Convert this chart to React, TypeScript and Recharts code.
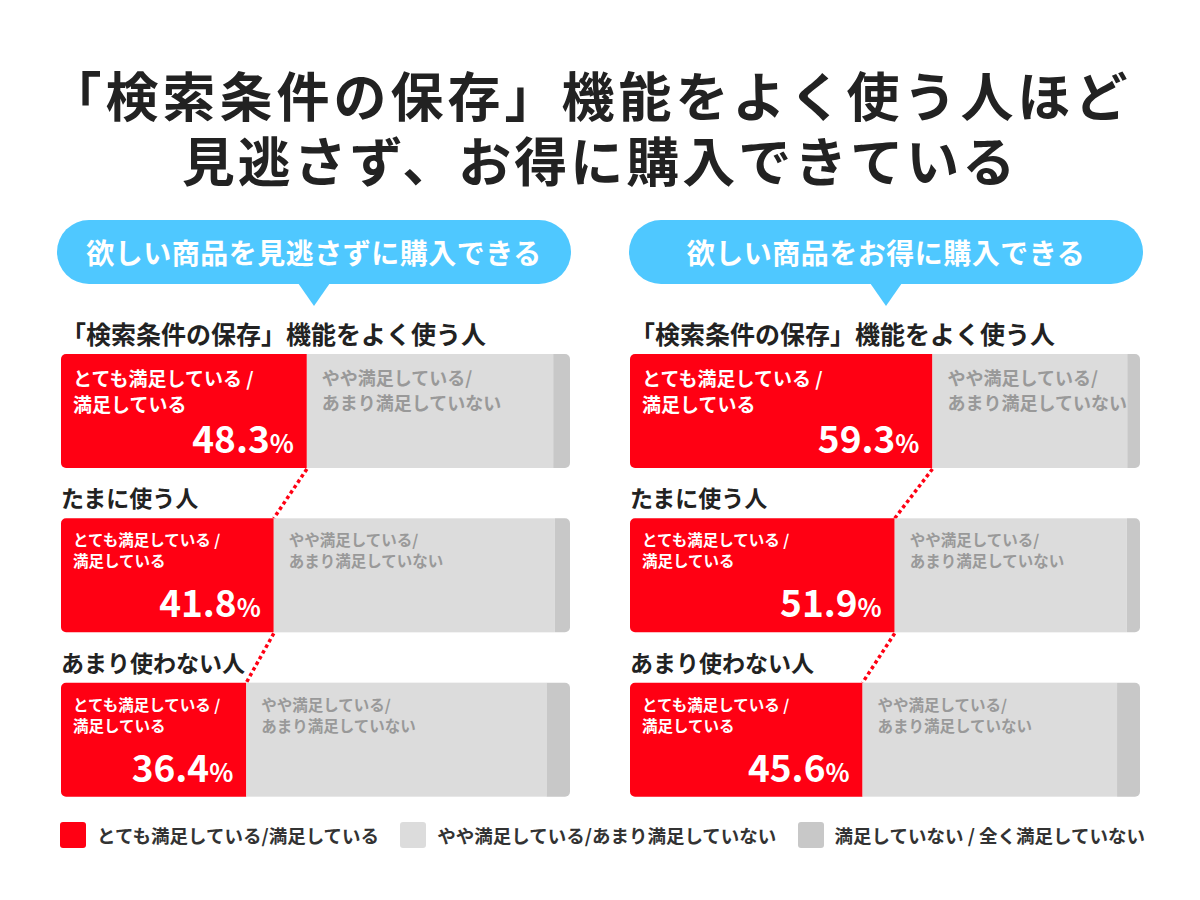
import React from "react";
import { BarChart, Bar, XAxis, YAxis, Rectangle } from "recharts";

const groups = ["「検索条件の保存」機能をよく使う人", "たまに使う人", "あまり使わない人"];

// 欲しい商品を見逃さずに購入できる
const missSatisfied = [48.3, 41.8, 36.4];
const missNeutral = [48.4, 55.2, 59.0];
const missDissatisfied = [3.3, 3.0, 4.6];

// 欲しい商品をお得に購入できる
const dealSatisfied = [59.3, 51.9, 45.6];
const dealNeutral = [38.2, 45.5, 49.9];
const dealDissatisfied = [2.5, 2.6, 4.5];

const panelTitles = ["欲しい商品を見逃さずに購入できる", "欲しい商品をお得に購入できる"];
const legendLabels = [
  "とても満足している/満足している",
  "やや満足している/あまり満足していない",
  "満足していない / 全く満足していない",
];

const RED = "#FF0013";
const LIGHT = "#DCDCDC";
const DARK = "#C8C8C8";
const BLUE = "#4FC8FF";
const FONT = '"Noto Sans CJK JP", "Noto Sans", sans-serif';

const CHART_TOP = 289;
const CHART_H = 533;
const MARGIN_TOP = 40;
const BAR = 114;
const BAND = (CHART_H - MARGIN_TOP) / 3;
const GAP = BAND - BAR;

const RedShape = (props: any) => {
  const { x, y, width, height, index, payload } = props;
  const big = index === 0;
  const fs = big ? 19 : 15.5;
  return (
    <g>
      <Rectangle x={x} y={y} width={width} height={height} radius={[5, 0, 0, 5]} fill={RED} />
      {payload.prev != null && (
        <line
          x1={x + (width * payload.prev) / payload.satisfied}
          y1={y - GAP + 1}
          x2={x + width}
          y2={y}
          stroke={RED}
          strokeWidth={3.5}
          strokeDasharray="3.5 3"
        />
      )}
      {/* group label above the bar */}
      <text x={x} y={y - 21} fill="#222" fontSize={big ? 25 : 23} fontWeight={700} fontFamily={FONT} dominantBaseline="central">
        {payload.group}
      </text>
      <text x={x + 12} y={y + (big ? 23 : 21)} fill="#fff" fontSize={fs} fontWeight={700} fontFamily={FONT} dominantBaseline="central">
        とても満足している /
      </text>
      <text x={x + 12} y={y + (big ? 49 : 42)} fill="#fff" fontSize={fs} fontWeight={700} fontFamily={FONT} dominantBaseline="central">
        満足している
      </text>
      <text x={x + width - 13} y={y + 99} fill="#fff" fontSize={37} fontWeight={700} fontFamily={FONT} textAnchor="end">
        {payload.satisfied.toFixed(1)}
        <tspan fontSize={25}>%</tspan>
      </text>
    </g>
  );
};

const LightShape = (props: any) => {
  const { x, y, width, height, index } = props;
  const big = index === 0;
  const fs = big ? 18 : 15.5;
  return (
    <g>
      <rect x={x} y={y} width={width} height={height} fill={LIGHT} />
      <text x={x + 15} y={y + (big ? 23 : 21)} fill="#999" fontSize={fs} fontWeight={700} fontFamily={FONT} dominantBaseline="central">
        やや満足している/
      </text>
      <text x={x + 15} y={y + (big ? 48 : 42)} fill="#999" fontSize={fs} fontWeight={700} fontFamily={FONT} dominantBaseline="central">
        あまり満足していない
      </text>
    </g>
  );
};

const DarkShape = (props: any) => (
  <Rectangle x={props.x} y={props.y} width={props.width} height={props.height} radius={[0, 5, 5, 0]} fill={DARK} />
);

function Panel({ left, width, satisfied, neutral, dissatisfied }: any) {
  const rows = groups.map((g, i) => ({
    group: g,
    satisfied: satisfied[i],
    neutral: neutral[i],
    dissatisfied: dissatisfied[i],
    prev: i > 0 ? satisfied[i - 1] : null,
  }));
  return (
    <div style={{ position: "absolute", left, top: CHART_TOP }}>
      <BarChart
        width={width}
        height={CHART_H}
        data={rows}
        layout="vertical"
        barSize={BAR}
        margin={{ top: MARGIN_TOP, right: 0, bottom: 0, left: 0 }}
      >
        <XAxis type="number" domain={[0, 100]} hide />
        <YAxis type="category" dataKey="group" hide />
        <Bar dataKey="satisfied" stackId="a" shape={RedShape} isAnimationActive={false} />
        <Bar dataKey="neutral" stackId="a" shape={LightShape} isAnimationActive={false} />
        <Bar dataKey="dissatisfied" stackId="a" shape={DarkShape} isAnimationActive={false} />
      </BarChart>
    </div>
  );
}

function Bubble({ left, width, text }: any) {
  const h = 64;
  const cx = width / 2;
  return (
    <div style={{ position: "absolute", left, top: 220, width, height: 88 }}>
      <svg width={width} height={88} style={{ position: "absolute", left: 0, top: 0 }}>
        <rect x={0} y={0} width={width} height={h} rx={h / 2} fill={BLUE} />
        <path d={`M${cx - 16} ${h - 1} L${cx + 16} ${h - 1} L${cx} ${h + 22} Z`} fill={BLUE} />
      </svg>
      <div
        style={{
          position: "absolute",
          left: 0,
          top: 0,
          width,
          height: h,
          lineHeight: `${h}px`,
          textAlign: "center",
          color: "#fff",
          fontSize: 28,
          fontWeight: 700,
          letterSpacing: 0.5,
        }}
      >
        {text}
      </div>
    </div>
  );
}

export default function App() {
  const legendColors = [RED, LIGHT, DARK];
  return (
    <div style={{ position: "absolute", left: 0, top: 0, width: 1200, height: 900, background: "#fff", fontFamily: FONT, overflow: "hidden" }}>
      <div
        style={{
          position: "absolute",
          left: 0,
          top: 62,
          width: 1200,
          lineHeight: "65px",
          textAlign: "center",
          fontSize: 53,
          fontWeight: 700,
          letterSpacing: 3,
          color: "#222",
        }}
      >
        <span style={{ position: "relative", left: -10, letterSpacing: 4 }}>「検索条件の保存」機能をよく使う人ほど</span>
        <br />
        見逃さず、お得に購入できている
      </div>

      <Bubble left={57} width={514} text={panelTitles[0]} />
      <Bubble left={629} width={514} text={panelTitles[1]} />

      <Panel left={61} width={509} satisfied={missSatisfied} neutral={missNeutral} dissatisfied={missDissatisfied} />
      <Panel left={630} width={510} satisfied={dealSatisfied} neutral={dealNeutral} dissatisfied={dealDissatisfied} />

      <div
        style={{
          position: "absolute",
          left: 60,
          top: 822,
          width: 1085,
          display: "flex",
          justifyContent: "space-between",
          alignItems: "center",
        }}
      >
        {legendLabels.map((l, i) => (
          <div key={l} style={{ display: "flex", alignItems: "center" }}>
            <span style={{ display: "inline-block", width: 26, height: 26, borderRadius: 3, background: legendColors[i], marginRight: 11 }} />
            <span style={{ fontSize: 18.5, fontWeight: 700, color: "#333" }}>{l}</span>
          </div>
        ))}
      </div>
    </div>
  );
}
